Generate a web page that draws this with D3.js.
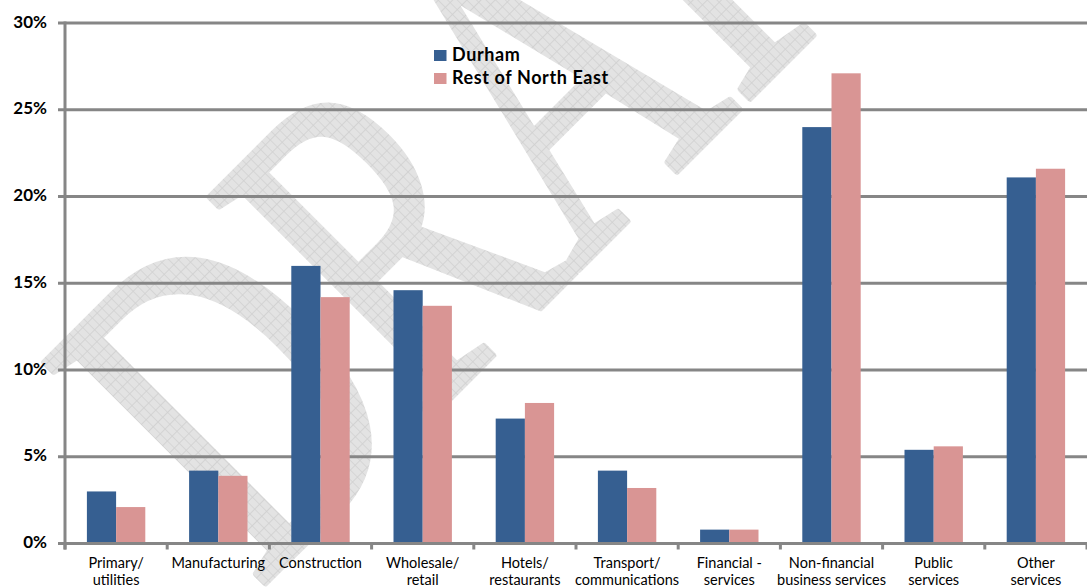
<!DOCTYPE html>
<html>
<head>
<meta charset="utf-8">
<script src="https://cdn.jsdelivr.net/npm/d3@7"></script>
<style>
  html, body { margin: 0; padding: 0; background: #ffffff; }
  svg { display: block; }
  text { font-family: Lato, "Open Sans", sans-serif; }
</style>
</head>
<body>
<svg id="chart" width="1087" height="588"></svg>
<script>
// Share of employment by sector
const categories = [
  ["Primary/", "utilities"],
  ["Manufacturing"],
  ["Construction"],
  ["Wholesale/", "retail"],
  ["Hotels/", "restaurants"],
  ["Transport/", "communications"],
  ["Financial -", "services"],
  ["Non-financial", "business services"],
  ["Public", "services"],
  ["Other", "services"]
];
const seriesNames = ["Durham", "Rest of North East"];
const durham      = [3.0, 4.2, 16.0, 14.6, 7.2, 4.2, 0.8, 24.0, 5.4, 21.1];
const restOfNE    = [2.1, 3.9, 14.2, 13.7, 8.1, 3.2, 0.8, 27.1, 5.6, 21.6];
const yTicks      = [0, 5, 10, 15, 20, 25, 30];
const colors      = ["#365f91", "#d99594"];

const svg = d3.select("#chart");
const plotLeft = 65, plotRight = 1087, plotTop = 23, plotBottom = 543.5;

const x = d3.scaleBand().domain(d3.range(categories.length)).range([plotLeft, plotRight]).paddingInner(0).paddingOuter(0);
const inner = d3.scaleBand().domain([0, 1]).range([0, x.bandwidth()]).paddingOuter(0.75).paddingInner(0);
const y = d3.scaleLinear().domain([0, 30]).range([plotBottom, plotTop]);

// Hatched "DRAFT" watermark
const defs = svg.append("defs");
const pat = defs.append("pattern").attr("id", "hatch").attr("patternUnits", "userSpaceOnUse")
  .attr("width", 10).attr("height", 10);
pat.append("rect").attr("width", 10).attr("height", 10).attr("fill", "#e3e3e3");
pat.append("path").attr("d", "M0,0.5H10M0.5,0V10").attr("stroke", "#d0d0d0").attr("stroke-width", 1);

svg.append("text")
  .attr("transform", "translate(258,590) rotate(-45) scale(0.68,1)")
  .style("font-family", "'Liberation Serif', 'DejaVu Serif', serif")
  .attr("font-size", 476)
  .attr("fill", "url(#hatch)")
  .attr("stroke", "url(#hatch)")
  .attr("stroke-width", 7)
  .attr("stroke-linejoin", "round")
  .text("DRAFT");

// Gridlines
svg.append("g").selectAll("line").data(yTicks).join("line")
  .attr("x1", plotLeft - 7).attr("x2", plotRight)
  .attr("y1", d => y(d)).attr("y2", d => y(d))
  .attr("stroke", "#868686").attr("stroke-width", 3);

// Y tick labels
svg.append("g").selectAll("text").data(yTicks).join("text")
  .attr("x", 47).attr("y", d => y(d) + 4.5)
  .attr("text-anchor", "end")
  .attr("font-size", 17).attr("font-weight", "bold").attr("fill", "#000")
  .text(d => d + "%");

// Bars
const groups = svg.append("g").selectAll("g").data(categories.map((c, i) => i)).join("g")
  .attr("transform", i => `translate(${x(i)},0)`);
groups.selectAll("rect").data(i => [durham[i], restOfNE[i]].map((v, s) => ({ v, s })))
  .join("rect")
  .attr("x", d => inner(d.s))
  .attr("width", inner.bandwidth())
  .attr("y", d => y(d.v))
  .attr("height", d => y(0) - y(d.v))
  .attr("fill", d => colors[d.s]);

// Axis lines and category ticks
svg.append("line").attr("x1", plotLeft).attr("x2", plotLeft).attr("y1", plotTop - 1.5).attr("y2", plotBottom + 6)
  .attr("stroke", "#868686").attr("stroke-width", 3);
svg.append("line").attr("x1", plotLeft - 7).attr("x2", plotRight).attr("y1", plotBottom).attr("y2", plotBottom)
  .attr("stroke", "#868686").attr("stroke-width", 3);
svg.append("g").selectAll("line").data(d3.range(categories.length + 1)).join("line")
  .attr("x1", i => plotLeft + i * x.bandwidth()).attr("x2", i => plotLeft + i * x.bandwidth())
  .attr("y1", plotBottom).attr("y2", plotBottom + 6)
  .attr("stroke", "#868686").attr("stroke-width", 3);

// Category labels
const lab = svg.append("g").selectAll("text").data(categories.map((c, i) => ({ c, i }))).join("text")
  .attr("text-anchor", "middle").attr("font-size", 14.5).attr("fill", "#000");
lab.selectAll("tspan").data(d => d.c.map((t, k) => ({ t, k, xc: x(d.i) + x.bandwidth() / 2 })))
  .join("tspan")
  .attr("x", d => d.xc)
  .attr("y", d => 567.5 + d.k * 17)
  .text(d => d.t);

// Legend
const leg = svg.append("g").attr("transform", "translate(434,50)");
seriesNames.forEach((n, i) => {
  leg.append("rect").attr("x", 0).attr("y", i * 23).attr("width", 12.5).attr("height", 11).attr("fill", colors[i]);
  leg.append("text").attr("x", 18).attr("y", i * 23 + 11).attr("font-size", 18).attr("font-weight", "bold")
    .attr("letter-spacing", 0.6).attr("fill", "#000").text(n);
});
</script>
</body>
</html>
